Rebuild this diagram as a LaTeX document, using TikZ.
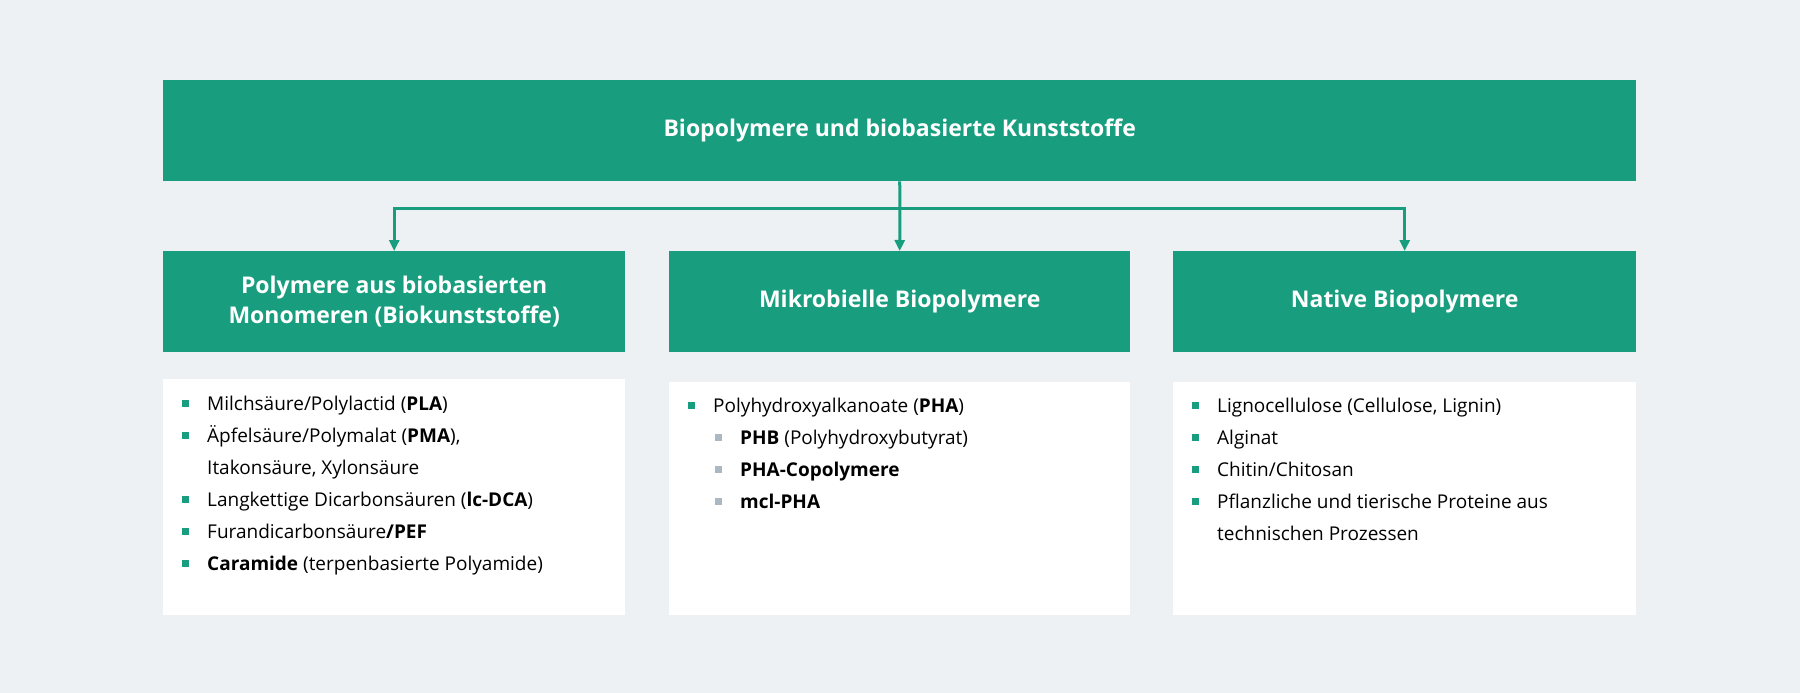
\documentclass[tikz,border=0pt]{standalone}
\usepackage{fontspec}
\setmainfont{Open Sans}
\usetikzlibrary{positioning,arrows.meta}
\definecolor{fhgreen}{HTML}{189E7E}
\definecolor{fhbg}{HTML}{EEF1F4}
\definecolor{fhgray}{HTML}{A9B8C3}
\newcommand\bul{\makebox[25pt][l]{\textcolor{fhgreen}{\rule[4pt]{7pt}{7pt}}}}
\newcommand\subbul{\hspace*{27pt}\makebox[25pt][l]{\textcolor{fhgray}{\rule[4pt]{7pt}{7pt}}}}
\newcommand\ind{\hspace*{25pt}}
\begin{document}
\begin{tikzpicture}[x=1pt, y=-1pt]
    % Styles
    \tikzset{
      head/.style={rectangle, fill=fhgreen, text=white, anchor=north west, align=center,
        font=\fontsize{23}{30}\selectfont\bfseries, inner sep=0pt},
      listbox/.style={rectangle, fill=white, anchor=north west, inner sep=0pt},
      listtext/.style={anchor=north west, align=left, inner sep=0pt,
        font=\fontsize{19}{32}\selectfont},
      link/.style={draw=fhgreen, line width=3pt, -{Triangle[length=11pt,width=10pt]}}
    }
    \fill[fhbg] (0,0) rectangle (1800,693);
    \useasboundingbox (0,0) rectangle (1800,693);

    % Heads
    \node (top) [head, minimum width=1473, minimum height=101] at (163,80) {Biopolymere und biobasierte Kunststoffe};
    \node (mono) [head, minimum width=462, minimum height=101] at (163,251) {Polymere aus biobasierten\\Monomeren (Biokunststoffe)};
    \node (mikro) [head, minimum width=461, minimum height=101] at (669,251) {Mikrobielle Biopolymere};
    \node (native) [head, minimum width=463, minimum height=101] at (1173,251) {Native Biopolymere};

    % Lists
    \node (monolist) [listbox, minimum width=462, minimum height=236] at (163,379) {};
    \node (mikrolist) [listbox, minimum width=461, minimum height=233] at (669,382) {};
    \node (nativelist) [listbox, minimum width=463, minimum height=233] at (1173,382) {};

    \node [listtext] at (182,396) {\bul Milchsäure/Polylactid (\textbf{PLA})\\
      \bul Äpfelsäure/Polymalat (\textbf{PMA}),\\
      \ind Itakonsäure, Xylonsäure\\
      \bul Langkettige Dicarbonsäuren (\textbf{lc-DCA})\\
      \bul Furandicarbonsäure\textbf{/PEF}\\
      \bul \textbf{Caramide} (terpenbasierte Polyamide)};
    \node [listtext] at (688,398) {\bul Polyhydroxyalkanoate (\textbf{PHA})\\
      \subbul \textbf{PHB} (Polyhydroxybutyrat)\\
      \subbul \textbf{PHA-Copolymere}\\
      \subbul \textbf{mcl-PHA}};
    \node [listtext] at (1192,398) {\bul Lignocellulose (Cellulose, Lignin)\\
      \bul Alginat\\
      \bul Chitin/Chitosan\\
      \bul Pflanzliche und tierische Proteine aus\\
      \ind technischen Prozessen};

    % Arrows
    \coordinate (bar) at (900,208);
    \draw [draw=fhgreen, line width=3pt] (top.south) -- (bar);
    \draw [link] (bar) -| (mono.north);
    \draw [link] (bar) -- (mikro.north);
    \draw [link] (bar) -| (native.north);
\end{tikzpicture}
\end{document}
